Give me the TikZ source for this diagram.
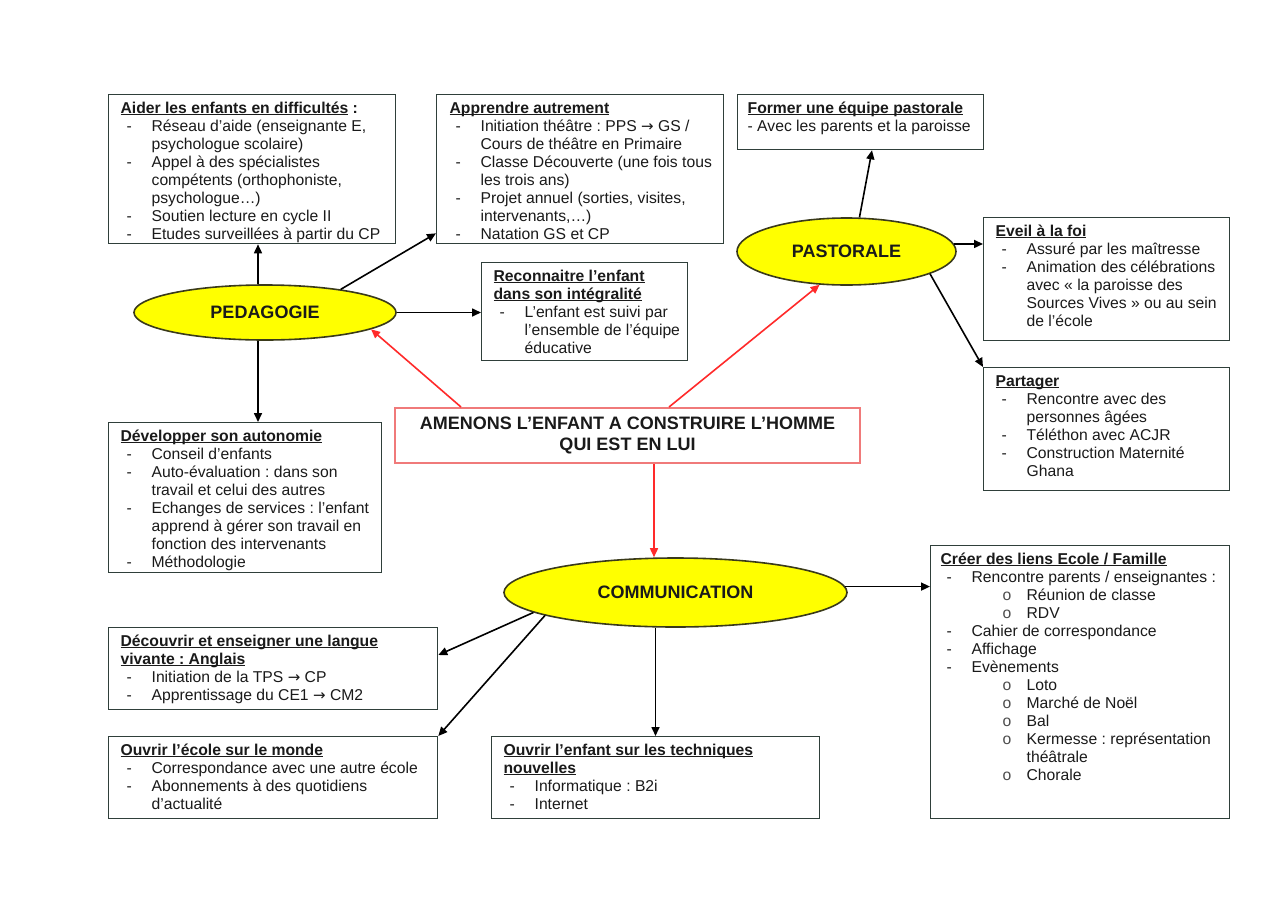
\documentclass[tikz,border=0pt]{standalone}
\usepackage{fontspec}
\setmainfont{Liberation Sans}
\newfontfamily\dvs{DejaVu Sans}
\usetikzlibrary{shapes.geometric,arrows.meta,calc}
\definecolor{boxc}{HTML}{2F3F3A}
\definecolor{redb}{HTML}{F07A7A}
\definecolor{reda}{HTML}{FF2A2A}
\definecolor{ellf}{HTML}{FFFF00}
\definecolor{elld}{HTML}{3A3A1A}
\definecolor{txt}{HTML}{1A1A1A}
\frenchspacing
\newlength\dashind \newlength\itind \newlength\oind \newlength\sind
\setlength\dashind{6pt}\setlength\itind{31pt}\setlength\oind{62pt}\setlength\sind{86pt}
\newcommand\ul[1]{\setbox0\hbox{#1}\rlap{\rule[-2.2pt]{\wd0}{1.1pt}}\box0}
\newcommand\itm{\par\hangindent=\itind\hangafter=1\noindent\makebox[\itind][l]{\hspace*{\dashind}-}}
\newcommand\sitm{\par\hangindent=\sind\hangafter=1\noindent\makebox[\sind][l]{\hspace*{\oind}\textcolor{black!70}{o}}}
\newcommand\rar{{\dvs\fontsize{15}{15}\selectfont →}}
\newcommand\boxtext[4]{\parbox[c][#2pt][t]{#1pt}{\fontsize{15.7}{18}\selectfont\frenchspacing\color{txt}\leftskip=#3pt\rightskip=0pt plus 1fil\parindent=0pt\parfillskip=0pt plus 1fil\vspace*{6pt}\strut #4\par}}
\tikzset{
  box/.style={draw=boxc, line width=1.3pt, inner sep=0pt, anchor=north west, fill=white},
  ell/.style={ellipse, draw=elld, line width=1.6pt, fill=ellf, inner sep=0pt, text=txt, font=\fontsize{18}{21}\selectfont\bfseries},
  redbox/.style={draw=redb, line width=2pt, inner sep=0pt, align=center, text=txt, font=\fontsize{18}{21}\selectfont\bfseries},
  arr/.style={line width=1.6pt, draw=black, -{Triangle[width=8pt,length=9pt]}},
  rarr/.style={line width=1.6pt, draw=reda, -{Triangle[width=8pt,length=9pt]}}
}
\begin{document}
\begin{tikzpicture}[x=1pt,y=-1pt]
\useasboundingbox[fill=white] (0,0) rectangle (1280,903);

\node[box] (aider) at (108,94) {\boxtext{287}{149}{12}{\ul{\textbf{Aider les enfants en difficultés}}\textbf{ :}
\itm Réseau d’aide (enseignante E,\\psychologue scolaire)
\itm Appel à des spécialistes\\compétents (orthophoniste,\\psychologue…)
\itm Soutien lecture en cycle II
\itm Etudes surveillées à partir du CP}};

\node[box] (appr) at (436,94) {\boxtext{287}{149}{13}{\ul{\textbf{Apprendre autrement}}
\itm Initiation théâtre : PPS \rar{} GS /\\Cours de théâtre en Primaire
\itm Classe Découverte (une fois tous\\les trois ans)
\itm Projet annuel (sorties, visites,\\intervenants,…)
\itm Natation GS et CP}};

\node[box] (former) at (737,94) {\boxtext{246}{55}{10}{\ul{\textbf{Former une équipe pastorale}}\\- Avec les parents et la paroisse}};

\node[box] (recon) at (481,262) {\boxtext{206}{98}{12}{\ul{\textbf{Reconnaitre l’enfant}}\\\ul{\textbf{dans son intégralité}}
\itm L’enfant est suivi par\\l’ensemble de l’équipe\\éducative}};

\node[box] (devel) at (108,422) {\boxtext{273}{150}{12}{\ul{\textbf{Développer son autonomie}}
\itm Conseil d’enfants
\itm Auto-évaluation : dans son\\travail et celui des autres
\itm Echanges de services : l’enfant\\apprend à gérer son travail en\\fonction des intervenants
\itm Méthodologie}};

\node[box] (eveil) at (983,217) {\boxtext{246}{123}{12}{\ul{\textbf{Eveil à la foi}}
\itm Assuré par les maîtresse
\itm Animation des célébrations\\avec « la paroisse des\\Sources Vives » ou au sein\\de l’école}};

\node[box] (part) at (983,367) {\boxtext{246}{123}{12}{\ul{\textbf{Partager}}
\itm Rencontre avec des\\personnes âgées
\itm Téléthon avec ACJR
\itm Construction Maternité\\Ghana}};

\node[box] (creer) at (930,545) {\boxtext{299}{273}{10}{\ul{\textbf{Créer des liens Ecole / Famille}}
\itm Rencontre parents / enseignantes :
\sitm Réunion de classe
\sitm RDV
\itm Cahier de correspondance
\itm Affichage
\itm Evènements
\sitm Loto
\sitm Marché de Noël
\sitm Bal
\sitm Kermesse : représentation\\théâtrale
\sitm Chorale}};

\node[box] (decouv) at (108,627) {\boxtext{329}{82}{12}{\ul{\textbf{Découvrir et enseigner une langue}}\\\ul{\textbf{vivante : Anglais}}
\itm Initiation de la TPS \rar{} CP
\itm Apprentissage du CE1 \rar{} CM2}};

\node[box] (ecole) at (108,736) {\boxtext{329}{82}{12}{\ul{\textbf{Ouvrir l’école sur le monde}}
\itm Correspondance avec une autre école
\itm Abonnements à des quotidiens\\d’actualité}};

\node[box] (tech) at (491,736) {\boxtext{328}{82}{12}{\ul{\textbf{Ouvrir l’enfant sur les techniques}}\\\ul{\textbf{nouvelles}}
\itm Informatique : B2i
\itm Internet}};

\node[ell, minimum width=262pt, minimum height=55pt] (ped) at (265,312.5) {PEDAGOGIE};
\node[ell, minimum width=219pt, minimum height=67pt] (past) at (846.5,251.5) {PASTORALE};
\node[ell, minimum width=343pt, minimum height=69pt] (comm) at (675.5,592.5) {COMMUNICATION};

\node[redbox, minimum width=465pt, minimum height=55pt] (core) at (627.5,435.5) {AMENONS L’ENFANT A CONSTRUIRE L’HOMME\\QUI EST EN LUI};

% PEDAGOGIE connectors
\coordinate (p1) at ($(ped.north)+(-7,0)$);
\draw[arr] (p1) -- (p1 |- aider.south);
\draw[arr] (ped.17) -- ($(appr.south west)+(0,-11)$);
\draw[arr] (ped.east) -- (ped.east -| recon.west);
\coordinate (p2) at ($(ped.south)+(-7,0)$);
\draw[arr] (p2) -- (p2 |- devel.north);

% red connectors
\coordinate (r1) at ($(core.north west)+(67,0)$);
\draw[rarr] (r1) -- (ped.-9);
\coordinate (r2) at ($(core.north west)+(275,0)$);
\draw[rarr] (r2) -- (past.-129);
\coordinate (r3) at ($(core.south west)+(260,0)$);
\draw[rarr] (r3) -- (r3 |- comm.north);

% PASTORALE connectors
\draw[arr] ($(past.north)+(13,0)$) -- ($(former.south west)+(135,0)$);
\draw[arr] (past.4) -- (past.4 -| eveil.west);
\draw[arr] (past.-15) -- (part.north west);

% COMMUNICATION connectors
\draw[arr] (comm.2) -- (comm.2 -| creer.west);
\draw[arr] (comm.188) -- ($(decouv.north east)+(0,28)$);
\draw[arr] (comm.190) -- (ecole.north east);
\coordinate (c4) at ($(comm.south)+(-20,0)$);
\draw[arr] (c4) -- (c4 |- tech.north);
\end{tikzpicture}
\end{document}
